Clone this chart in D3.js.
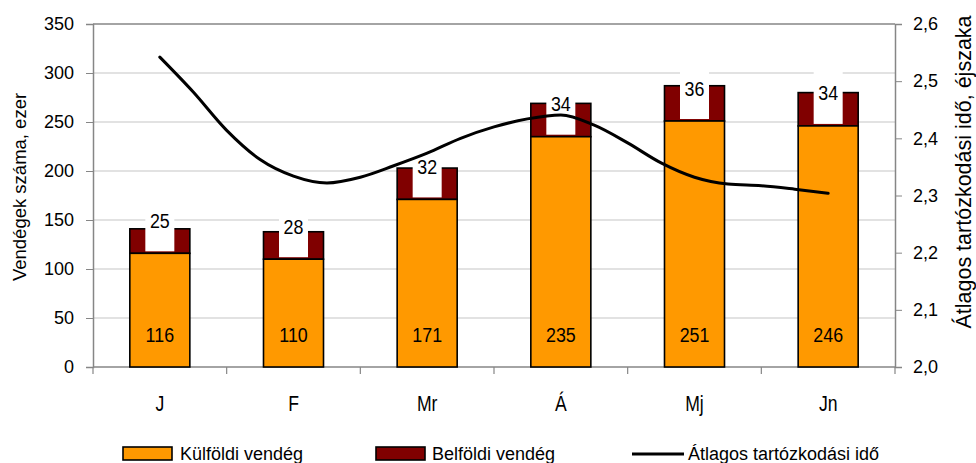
<!DOCTYPE html>
<html>
<head>
<meta charset="utf-8">
<script src="https://cdn.jsdelivr.net/npm/d3@7"></script>
<style>
  html, body { margin: 0; padding: 0; background: #fff; }
  svg { display: block; font-family: Arial, "Liberation Sans", sans-serif; }
</style>
</head>
<body>
<svg id="chart" width="976" height="463"></svg>
<script>
const categories = ["J", "F", "Mr", "Á", "Mj", "Jn"];
const kulfoldi = [116, 110, 171, 235, 251, 246];
const belfoldi = [25, 28, 32, 34, 36, 34];
// average length of stay, read at quarter-month steps from J to Jn
const atlagIdo = [2.542, 2.481, 2.414, 2.363, 2.334, 2.322, 2.332, 2.352, 2.374, 2.400, 2.420,
                  2.434, 2.441, 2.423, 2.392, 2.357, 2.332, 2.320, 2.317, 2.311, 2.304];
const leftTicks = [0, 50, 100, 150, 200, 250, 300, 350];
const rightTicks = [2.0, 2.1, 2.2, 2.3, 2.4, 2.5, 2.6];
const legendLabels = ["Külföldi vendég", "Belföldi vendég", "Átlagos tartózkodási idő"];
const leftTitle = "Vendégek száma, ezer";
const rightTitle = "Átlagos tartózkodási idő, éjszaka";

const svg = d3.select("#chart");
const L = 93, R = 895, T = 24, B = 367;
const ORANGE = "#FF9900", DARKRED = "#800000", AXIS = "#868686", GRID = "#d9d9d9";

const x = d3.scaleBand().domain(categories).range([L, R]).paddingInner(0.551).paddingOuter(0.2755);
const y = d3.scaleLinear().domain([0, 350]).range([B, T]);
const y2 = d3.scaleLinear().domain([2.0, 2.6]).range([B, T]);
const xl = d3.scaleLinear().domain([0, categories.length - 1])
  .range([x(categories[0]) + x.bandwidth() / 2, x(categories[categories.length - 1]) + x.bandwidth() / 2]);

// gridlines
svg.append("g").selectAll("line").data(leftTicks.filter(d => d > 0 && d < 350)).join("line")
  .attr("x1", L).attr("x2", R).attr("y1", d => y(d)).attr("y2", d => y(d))
  .attr("stroke", GRID).attr("stroke-width", 1.3);

// plot border top
svg.append("line").attr("x1", L).attr("x2", R).attr("y1", y(350)).attr("y2", y(350))
  .attr("stroke", AXIS).attr("stroke-width", 1.5);

// left axis
const leftAxis = d3.axisLeft(y).tickValues(leftTicks).tickSize(7).tickPadding(12).tickFormat(d3.format("d"));
const gL = svg.append("g").attr("transform", `translate(${L},0)`).call(leftAxis);
gL.select(".domain").attr("stroke", AXIS).attr("stroke-width", 1.5);
gL.selectAll(".tick line").attr("stroke", AXIS);
gL.selectAll(".tick text").attr("font-size", 18).attr("font-family", "Arial, 'Liberation Sans', sans-serif").attr("fill", "#000");

// right axis
const rightAxis = d3.axisRight(y2).tickValues(rightTicks).tickSize(7).tickPadding(11)
  .tickFormat(d => d3.format(".1f")(d).replace(".", ","));
const gR = svg.append("g").attr("transform", `translate(${R},0)`).call(rightAxis);
gR.select(".domain").attr("stroke", AXIS).attr("stroke-width", 1.5);
gR.selectAll(".tick line").attr("stroke", AXIS);
gR.selectAll(".tick text").attr("font-size", 18).attr("font-family", "Arial, 'Liberation Sans', sans-serif").attr("fill", "#000");

// bottom axis
const gB = svg.append("g").attr("transform", `translate(0,${B})`);
gB.append("line").attr("x1", L).attr("x2", R).attr("stroke", AXIS).attr("stroke-width", 1.5);
const bounds = d3.range(categories.length + 1).map(i => L + i * x.step());
gB.selectAll("line.tk").data(bounds).join("line").attr("class", "tk")
  .attr("x1", d => d).attr("x2", d => d).attr("y1", 0).attr("y2", 7).attr("stroke", AXIS).attr("stroke-width", 1.2);
gB.selectAll("text").data(categories).join("text")
  .attr("transform", d => `translate(${x(d) + x.bandwidth() / 2},44) scale(0.8,1)`)
  .attr("text-anchor", "middle").attr("font-size", 22).text(d => d);

// bars
const bars = svg.append("g");
categories.forEach((c, i) => {
  const bx = x(c), bw = x.bandwidth();
  bars.append("rect").attr("x", bx).attr("width", bw)
    .attr("y", y(kulfoldi[i] + belfoldi[i])).attr("height", y(kulfoldi[i]) - y(kulfoldi[i] + belfoldi[i]))
    .attr("fill", DARKRED).attr("stroke", "#000").attr("stroke-width", 1.6);
  bars.append("rect").attr("x", bx).attr("width", bw)
    .attr("y", y(kulfoldi[i])).attr("height", y(0) - y(kulfoldi[i]))
    .attr("fill", ORANGE).attr("stroke", "#000").attr("stroke-width", 1.6);
});

// labels
const labels = svg.append("g");
categories.forEach((c, i) => {
  const cx = x(c) + x.bandwidth() / 2;
  const tc = y(kulfoldi[i]) - 33;
  labels.append("rect").attr("x", cx - 14.5).attr("width", 29)
    .attr("y", tc - 21).attr("height", y(kulfoldi[i]) - 2 - (tc - 21)).attr("fill", "#fff");
  labels.append("text").attr("transform", `translate(${cx},${tc + 7.5}) scale(0.85,1)`)
    .attr("text-anchor", "middle").attr("font-size", 21).text(belfoldi[i]);
  labels.append("text").attr("transform", `translate(${cx},${y(0) - 25}) scale(0.85,1)`)
    .attr("text-anchor", "middle").attr("font-size", 21).text(kulfoldi[i]);
});

// line
const line = d3.line().x((d, i) => xl(i / 4)).y(d => y2(d)).curve(d3.curveMonotoneX);
svg.append("path").datum(atlagIdo).attr("d", line).attr("fill", "none")
  .attr("stroke", "#000").attr("stroke-width", 3).attr("stroke-linejoin", "round").attr("stroke-linecap", "round");

// axis titles
svg.append("text").attr("transform", `translate(26,187) rotate(-90)`)
  .attr("text-anchor", "middle").attr("font-size", 18.5).text(leftTitle);
svg.append("text").attr("transform", `translate(971,172) rotate(-90)`)
  .attr("text-anchor", "middle").attr("font-size", 21.5).text(rightTitle);

// legend
const lg = svg.append("g");
const legX = [123, 376, 632];
lg.append("rect").attr("x", legX[0]).attr("y", 447).attr("width", 49).attr("height", 13)
  .attr("fill", ORANGE).attr("stroke", "#000").attr("stroke-width", 1.6);
lg.append("rect").attr("x", legX[1]).attr("y", 447).attr("width", 49).attr("height", 13)
  .attr("fill", DARKRED).attr("stroke", "#000").attr("stroke-width", 1.6);
lg.append("line").attr("x1", legX[2]).attr("x2", legX[2] + 52).attr("y1", 454).attr("y2", 454)
  .attr("stroke", "#000").attr("stroke-width", 3);
lg.selectAll("text").data(legendLabels).join("text")
  .attr("x", (d, i) => [180, 432, 688][i]).attr("y", 460).attr("font-size", 18).text(d => d);
</script>
</body>
</html>
